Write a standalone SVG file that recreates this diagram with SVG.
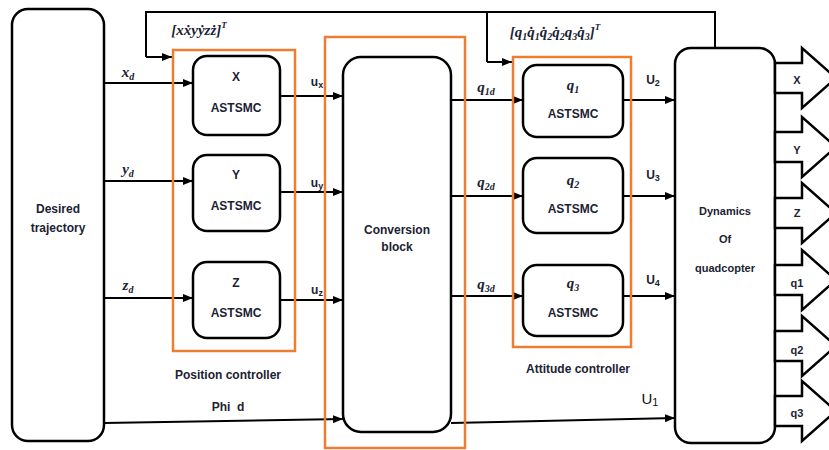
<svg xmlns="http://www.w3.org/2000/svg" width="829" height="450" viewBox="0 0 829 450">
<defs>
<marker id="ah" viewBox="0 0 10 8" refX="10" refY="4" markerWidth="10" markerHeight="8" markerUnits="userSpaceOnUse" orient="auto">
<path d="M0,0 L10,4 L0,8 Z" fill="#000"/>
</marker>
<style>
.blk{fill:#fff;stroke:#000;stroke-width:2.5}
.org{fill:none;stroke:#ED7D31;stroke-width:2.5}
.ln{fill:none;stroke:#000;stroke-width:2}
.arr{fill:none;stroke:#000;stroke-width:2;marker-end:url(#ah)}
.out{fill:#fff;stroke:#000;stroke-width:2.5;stroke-linejoin:miter}
.t{font-family:"Liberation Sans",Arial,sans-serif;font-weight:bold;font-size:12px;fill:#1b2233;text-anchor:middle}
.s{font-family:"Liberation Sans",Arial,sans-serif;font-weight:bold;font-size:11px;fill:#1b2233;text-anchor:middle}
.m{font-family:"Liberation Serif","Times New Roman",serif;font-style:italic;font-weight:bold;font-size:15px;fill:#1b2233;text-anchor:middle}
.sub{font-size:10px}
.ts{font-size:9px}
</style>
</defs>

<g id="connectors">
<path class="ln" d="M146,57 V12 H715 V48"/>
<path class="arr" d="M146,57 H172"/>
<path class="ln" d="M487,12 V62"/>
<path class="arr" d="M487,62 H512"/>
<path class="arr" d="M104,83 H193"/>
<path class="arr" d="M104,181 H193"/>
<path class="arr" d="M104,298 H193"/>
<path class="arr" d="M280,96 H343"/>
<path class="arr" d="M280,192 H343"/>
<path class="arr" d="M280,300 H343"/>
<path class="arr" d="M104,423 L343,419"/>
<path class="arr" d="M451,100 H523"/>
<path class="arr" d="M451,196 H523"/>
<path class="arr" d="M451,296 H523"/>
<path class="arr" d="M623,100 H675"/>
<path class="arr" d="M623,196 H675"/>
<path class="arr" d="M623,296 H675"/>
<path class="arr" d="M451,423 L675,418"/>
</g>

<g id="desired-trajectory">
<rect class="blk" x="12" y="9" width="92" height="432" rx="16"/>
<text class="t" x="58" y="213">Desired</text>
<text class="t" x="58" y="232">trajectory</text>
</g>

<g id="position-controller">
<rect class="org" x="173" y="50" width="122" height="301"/>
<text class="t" x="228" y="379">Position controller</text>
</g>

<g id="x-astsmc">
<rect class="blk" x="193" y="56" width="87" height="79" rx="14"/>
<text class="t" x="236" y="81">X</text>
<text class="t" x="236" y="112">ASTSMC</text>
</g>
<g id="y-astsmc">
<rect class="blk" x="193" y="155" width="87" height="76" rx="14"/>
<text class="t" x="236" y="179">Y</text>
<text class="t" x="236" y="210">ASTSMC</text>
</g>
<g id="z-astsmc">
<rect class="blk" x="193" y="262" width="87" height="76" rx="14"/>
<text class="t" x="236" y="287">Z</text>
<text class="t" x="236" y="317">ASTSMC</text>
</g>

<g id="conversion-block">
<rect class="org" x="325" y="37" width="140" height="411"/>
<rect class="blk" x="343" y="57" width="108" height="375" rx="18"/>
<text class="t" x="397" y="234">Conversion</text>
<text class="t" x="397" y="251">block</text>
</g>

<g id="attitude-controller">
<rect class="org" x="513" y="57" width="118" height="290"/>
<text class="t" x="578" y="373">Attitude controller</text>
</g>

<g id="q1-astsmc">
<rect class="blk" x="523" y="65" width="100" height="72" rx="14"/>
<text class="m" x="573" y="90">q<tspan class="sub" dy="3">1</tspan></text>
<text class="t" x="573" y="118">ASTSMC</text>
</g>
<g id="q2-astsmc">
<rect class="blk" x="523" y="158" width="100" height="75" rx="14"/>
<text class="m" x="573" y="185">q<tspan class="sub" dy="3">2</tspan></text>
<text class="t" x="573" y="213">ASTSMC</text>
</g>
<g id="q3-astsmc">
<rect class="blk" x="523" y="265" width="100" height="71" rx="14"/>
<text class="m" x="573" y="288">q<tspan class="sub" dy="3">3</tspan></text>
<text class="t" x="573" y="317">ASTSMC</text>
</g>

<g id="dynamics">
<rect class="blk" x="675" y="48" width="100" height="395" rx="16"/>
<text class="s" x="725" y="215">Dynamics</text>
<text class="s" x="725" y="243">Of</text>
<text class="s" x="725" y="272">quadcopter</text>
</g>

<g id="outputs">
<polygon class="out" points="775,63 802,63 802,48 836,78 802,108 802,93 775,93"/>
<text class="s" x="797" y="84">X</text>
<polygon class="out" points="775,132 802,132 802,117 836,147 802,177 802,162 775,162"/>
<text class="s" x="797" y="154">Y</text>
<polygon class="out" points="775,198 802,198 802,183 836,213 802,243 802,228 775,228"/>
<text class="s" x="797" y="217">Z</text>
<polygon class="out" points="775,265 802,265 802,250 836,280 802,310 802,295 775,295"/>
<text class="s" x="797" y="287">q1</text>
<polygon class="out" points="775,331 802,331 802,316 836,346 802,376 802,361 775,361"/>
<text class="s" x="797" y="354">q2</text>
<polygon class="out" points="775,396 802,396 802,381 836,411 802,441 802,426 775,426"/>
<text class="s" x="797" y="417">q3</text>
</g>

<g id="labels">
<text class="m" x="199" y="35">[xẋyẏzż]<tspan class="ts" dy="-7">T</tspan></text>
<text class="m" x="555" y="37">[q<tspan class="sub" dy="3">1</tspan><tspan dy="-3">q̇</tspan><tspan class="sub" dy="3">1</tspan><tspan dy="-3">q̇</tspan><tspan class="sub" dy="3">2</tspan><tspan dy="-3">q̇</tspan><tspan class="sub" dy="3">2</tspan><tspan dy="-3">q</tspan><tspan class="sub" dy="3">3</tspan><tspan dy="-3">q̇</tspan><tspan class="sub" dy="3">3</tspan><tspan dy="-3">]</tspan><tspan class="ts" dy="-7">T</tspan></text>
<text class="m" x="128" y="77">x<tspan class="sub" dy="3">d</tspan></text>
<text class="m" x="128" y="174">y<tspan class="sub" dy="3">d</tspan></text>
<text class="m" x="128" y="290">z<tspan class="sub" dy="3">d</tspan></text>
<text class="t" x="317" y="86">u<tspan class="ts" dy="2">x</tspan></text>
<text class="t" x="317" y="187">u<tspan class="ts" dy="2">y</tspan></text>
<text class="t" x="317" y="294">u<tspan class="ts" dy="2">z</tspan></text>
<text class="m" x="486" y="92">q<tspan class="sub" dy="3">1d</tspan></text>
<text class="m" x="486" y="187">q<tspan class="sub" dy="3">2d</tspan></text>
<text class="m" x="486" y="289">q<tspan class="sub" dy="3">3d</tspan></text>
<text class="t" x="653" y="84">U<tspan class="ts" dy="2">2</tspan></text>
<text class="t" x="653" y="179">U<tspan class="ts" dy="2">3</tspan></text>
<text class="t" x="653" y="284">U<tspan class="ts" dy="2">4</tspan></text>
<text x="650" y="404" style="font-family:'Liberation Sans',Arial,sans-serif;font-size:15px;fill:#111;text-anchor:middle">U<tspan style="font-size:11px" dy="2">1</tspan></text>
<text class="t" x="228" y="411" xml:space="preserve">Phi  d</text>
</g>
</svg>
